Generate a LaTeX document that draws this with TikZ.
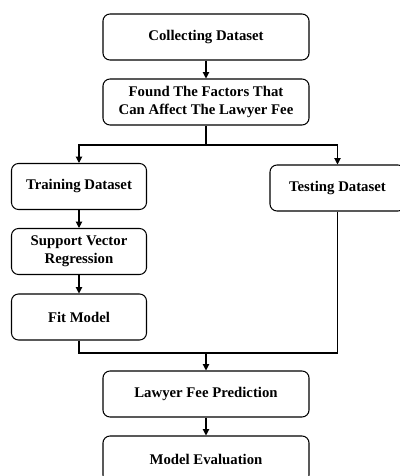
\documentclass[tikz,border=0pt]{standalone}
\usepackage{fontspec}
\setmainfont{Liberation Serif}
\usetikzlibrary{arrows.meta,positioning}
\tikzstyle{arrow} = [line width=0.75pt,-{Triangle[length=4.5pt,width=4.5pt]}]
\tikzstyle{line} = [line width=0.75pt]
\tikzstyle{process} = [rectangle, rounded corners=5pt, minimum width=5.15cm, minimum height=1.15cm, text centered, align=center, draw, line width=0.75pt, font=\bfseries\fontsize{10.5}{12.8}\selectfont]
\tikzstyle{halfprocess} = [process, minimum width=3.375cm]

\begin{document}
\begin{tikzpicture}[x=0.025cm,y=-0.025cm]
\useasboundingbox (0,0) rectangle (400,476);
\clip (0,0) rectangle (400,476);
% Main column
\node (collect) [process] at (206,37) {Collecting Dataset};
\node (factors) [process] at (206,102) {Found The Factors That\\Can Affect The Lawyer Fee};
% Split into training and testing
\node (train) [halfprocess] at (79,186.5) {Training Dataset};
\node (test) [halfprocess] at (337.5,188) {Testing Dataset};
\node (svr) [halfprocess] at (79,251.5) {Support Vector\\Regression};
\node (fit) [halfprocess] at (79,317) {Fit Model};
% Merge
\node (predict) [process] at (206,394) {Lawyer Fee Prediction};
\node (evaluate) [process] at (206,459) {Model Evaluation};

\coordinate (split) at (206,145);
\coordinate (merge) at (206,353);

\draw[arrow] (collect) -- (factors);
\draw[line] (factors) -- (split);
\draw[arrow] (split) -| (train.north);
\draw[arrow] (split) -| (test.north);
\draw[arrow] (train) -- (svr);
\draw[arrow] (svr) -- (fit);
\draw[line] (fit.south) |- (merge);
\draw[line] (test.south) |- (merge);
\draw[arrow] (merge) -- (predict);
\draw[arrow] (predict) -- (evaluate);
\end{tikzpicture}
\end{document}
